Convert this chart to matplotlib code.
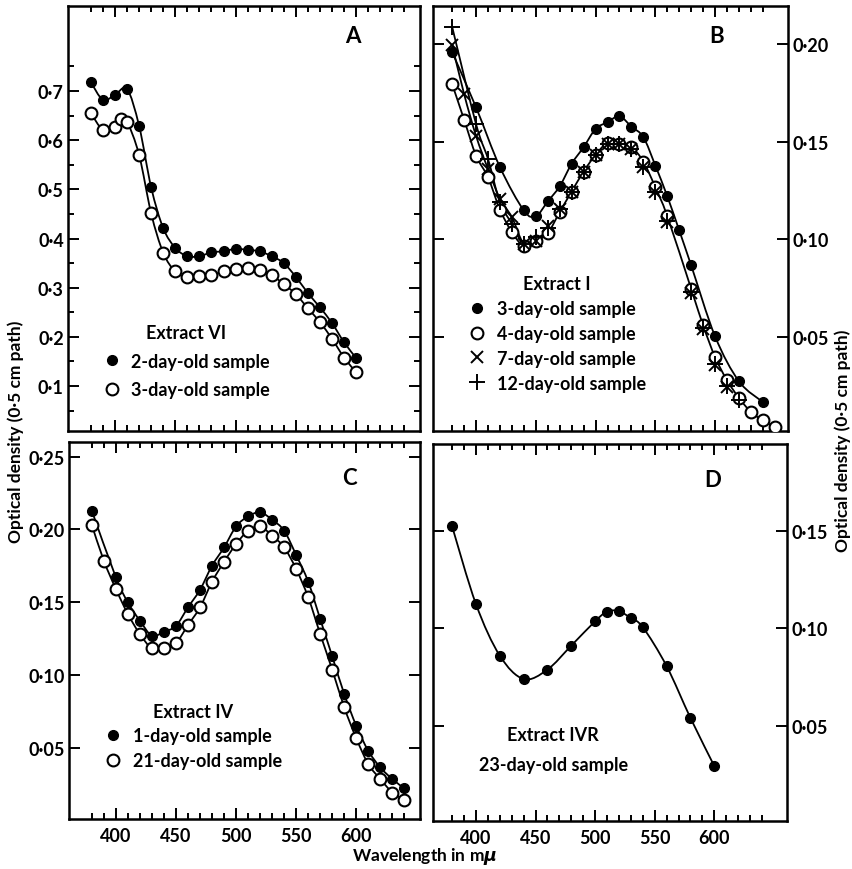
import numpy as np
import matplotlib
matplotlib.use('Agg')
import matplotlib.pyplot as plt
from matplotlib.path import Path
from matplotlib.patches import PathPatch
from matplotlib.ticker import FixedLocator, FuncFormatter

plt.rcParams['font.family'] = ['Lato', 'DejaVu Sans']
plt.rcParams['font.weight'] = 'bold'
plt.rcParams['mathtext.default'] = 'it'

# ---- panel A : Extract VI ----
lam_a = [380, 390, 400, 410, 420, 430, 440, 450, 460, 470, 480, 490, 500, 510, 520,
         530, 540, 550, 560, 570, 580, 590, 600]
a_2day = [0.718, 0.682, 0.692, 0.704, 0.629, 0.504, 0.421, 0.381, 0.364, 0.364, 0.372,
          0.374, 0.379, 0.377, 0.374, 0.364, 0.350, 0.322, 0.289, 0.260, 0.228, 0.189, 0.157]
lam_a3 = [380, 390, 400, 405, 410, 420, 430, 440, 450, 460, 470, 480, 490, 500, 510, 520,
          530, 540, 550, 560, 570, 580, 590, 600]
a_3day = [0.655, 0.621, 0.626, 0.643, 0.638, 0.570, 0.451, 0.371, 0.333, 0.321, 0.323,
          0.326, 0.333, 0.338, 0.340, 0.337, 0.326, 0.307, 0.287, 0.258, 0.230, 0.196,
          0.158, 0.128]

# ---- panel B : Extract I ----
lam_b3 = [380, 400, 420, 440, 450, 460, 470, 480, 490, 500, 510, 520, 530, 540, 550,
          560, 570, 580, 600, 620, 640]
b_3day = [0.1958, 0.1676, 0.1370, 0.1148, 0.1119, 0.1194, 0.1272, 0.1387, 0.1472, 0.1565,
          0.1600, 0.1630, 0.1577, 0.1523, 0.1378, 0.1221, 0.1046, 0.0867, 0.0504, 0.0274,
          0.0168]
lam_b4 = [380, 390, 400, 410, 420, 430, 440, 450, 460, 470, 480, 490, 500, 510, 520, 530,
          540, 550, 560, 580, 590, 600, 610, 620, 630, 640, 650]
b_4day = [0.1795, 0.1613, 0.1429, 0.1318, 0.1153, 0.1037, 0.0966, 0.0991, 0.1032, 0.1140,
          0.1245, 0.1347, 0.1433, 0.1494, 0.1489, 0.1472, 0.1398, 0.1267, 0.1119, 0.0747,
          0.0560, 0.0398, 0.0279, 0.0189, 0.0117, 0.0074, 0.0040]
lam_b7 = [380, 390, 400, 410, 420, 430, 440, 450, 460, 470, 480, 490, 500, 510, 520, 530,
          540, 550, 560, 580, 590, 600, 610]
b_7day = [0.1996, 0.1744, 0.1530, 0.1360, 0.1208, 0.1114, 0.0977, 0.0990, 0.1071, 0.1156,
          0.1245, 0.1345, 0.1430, 0.1490, 0.1490, 0.1460, 0.1370, 0.1240, 0.1090, 0.0725,
          0.0540, 0.0360, 0.0245]
lam_b12 = [380, 400, 410, 420, 430, 440, 450, 460, 470, 480, 490, 500, 510, 520, 530, 540,
           550, 560, 580, 590, 600, 610, 620]
b_12day = [0.2088, 0.1590, 0.1412, 0.1190, 0.1080, 0.0977, 0.1013, 0.1060, 0.1156, 0.1245,
           0.1345, 0.1430, 0.1490, 0.1490, 0.1460, 0.1370, 0.1245, 0.1095, 0.0730, 0.0545,
           0.0365, 0.0250, 0.0179]

# ---- panel C : Extract IV ----
lam_c1 = [380, 400, 410, 420, 430, 440, 450, 460, 470, 480, 490, 500, 510, 520, 530, 540,
          550, 560, 570, 580, 590, 600, 610, 620, 630, 640]
c_1day = [0.2128, 0.1670, 0.1498, 0.1372, 0.1269, 0.1296, 0.1337, 0.1464, 0.1585, 0.1750,
          0.1876, 0.2020, 0.2089, 0.2117, 0.2066, 0.1990, 0.1823, 0.1640, 0.1383, 0.1127,
          0.0868, 0.0650, 0.0478, 0.0364, 0.0284, 0.0220]
lam_c21 = [380, 390, 400, 410, 420, 430, 440, 450, 460, 470, 480, 490, 500, 510, 520, 530,
           540, 550, 560, 570, 580, 590, 600, 610, 620, 630, 640]
c_21day = [0.2030, 0.1784, 0.1590, 0.1418, 0.1280, 0.1182, 0.1182, 0.1219, 0.1342, 0.1464,
           0.1640, 0.1777, 0.1899, 0.1990, 0.2020, 0.1956, 0.1876, 0.1727, 0.1533, 0.1280,
           0.1035, 0.0777, 0.0564, 0.0387, 0.0284, 0.0192, 0.0142]

# ---- panel D : Extract IVR ----
lam_d = [380, 400, 420, 440, 460, 480, 500, 510, 520, 530, 540, 560, 580, 600]
d_23day = [0.1523, 0.1124, 0.0859, 0.0739, 0.0787, 0.0910, 0.1035, 0.1085, 0.1087, 0.1051,
           0.1005, 0.0805, 0.0539, 0.0292]

FS = 13


def smooth_line(ax, x, y):
    # catmull-rom through the points, drawn as bezier path
    x = np.asarray(x, float)
    y = np.asarray(y, float)
    verts = [(x[0], y[0])]
    codes = [Path.MOVETO]
    n = len(x)
    for i in range(n - 1):
        p0 = i - 1 if i > 0 else i
        p3 = i + 2 if i + 2 < n else i + 1
        c1 = (x[i] + (x[i + 1] - x[p0]) / 6, y[i] + (y[i + 1] - y[p0]) / 6)
        c2 = (x[i + 1] - (x[p3] - x[i]) / 6, y[i + 1] - (y[p3] - y[i]) / 6)
        verts += [c1, c2, (x[i + 1], y[i + 1])]
        codes += [Path.CURVE4] * 3
    ax.add_patch(PathPatch(Path(verts, codes), fill=False, lw=1.3, color='black'))


def filled(ax, x, y, label):
    ax.plot(x, y, 'o', ms=7, color='black', ls='none', label=label, zorder=3)


def hollow(ax, x, y, label):
    ax.plot(x, y, 'o', ms=8.5, mfc='white', mec='black', mew=1.5, ls='none',
            label=label, zorder=3)


def style(ax, xlim, ylim, yticks, yminor, fmt, side, xlabels):
    ax.set_xlim(*xlim)
    ax.set_ylim(*ylim)
    ax.xaxis.set_major_locator(FixedLocator([400, 450, 500, 550, 600]))
    ax.xaxis.set_minor_locator(FixedLocator(list(range(380, 650, 10))))
    ax.yaxis.set_major_locator(FixedLocator(yticks))
    ax.yaxis.set_minor_locator(FixedLocator(yminor))
    ax.yaxis.set_major_formatter(FuncFormatter(lambda v, p: fmt.format(v).replace('.', '\u00b7')))
    ax.tick_params(which='both', direction='in', top=True, right=True, left=True,
                   bottom=True, width=1.4, labelsize=FS)
    ax.tick_params(which='major', length=8)
    ax.tick_params(which='minor', length=4.5)
    ax.tick_params(axis='y', labelleft=(side == 'left'), labelright=(side == 'right'), pad=3)
    ax.tick_params(axis='x', labelbottom=xlabels, pad=6)
    for s in ax.spines.values():
        s.set_linewidth(1.8)


def panel_legend(ax, title, x, y, spacing):
    leg = ax.legend(title=title, loc='upper left', bbox_to_anchor=(x, y), frameon=False,
                    fontsize=FS, title_fontsize=FS, handlelength=1.0, handletextpad=0.6,
                    borderpad=0, borderaxespad=0, labelspacing=spacing)
    leg.get_title().set_fontweight('bold')
    return leg


fig = plt.figure(figsize=(8.53, 8.70), dpi=100)
W, H = 853.0, 870.0
ax_a = fig.add_axes([68 / W, 1 - 432 / H, 352 / W, 425 / H])
ax_b = fig.add_axes([433 / W, 1 - 432 / H, 355 / W, 425 / H])
ax_c = fig.add_axes([69 / W, 1 - 820 / H, 351 / W, 377 / H])
ax_d = fig.add_axes([433 / W, 1 - 822 / H, 354 / W, 377 / H])

# A
smooth_line(ax_a, lam_a, a_2day)
smooth_line(ax_a, lam_a3, a_3day)
filled(ax_a, lam_a, a_2day, '2-day-old sample')
hollow(ax_a, lam_a3, a_3day, '3-day-old sample')
style(ax_a, (361, 653), (0.0085, 0.873), [0.1, 0.2, 0.3, 0.4, 0.5, 0.6, 0.7],
      [0.05, 0.15, 0.25, 0.35, 0.45, 0.55, 0.65, 0.75], '{:.1f}', 'left', False)
panel_legend(ax_a, 'Extract VI', 0.098, 0.252, 0.65)
ax_a.text(0.81, 0.93, 'A', transform=ax_a.transAxes, fontsize=16, ha='center', va='center')

# B
smooth_line(ax_b, lam_b3, b_3day)
smooth_line(ax_b, lam_b4, b_4day)
# the 7- and 12-day curves only separate from the 4-day one on the short-wave side
smooth_line(ax_b, lam_b7[:8], b_7day[:8])
smooth_line(ax_b, lam_b12[:7], b_12day[:7])
filled(ax_b, lam_b3, b_3day, '3-day-old sample')
hollow(ax_b, lam_b4, b_4day, '4-day-old sample')
ax_b.plot(lam_b7, b_7day, 'x', ms=8, mew=1.4, color='black', ls='none',
          label='7-day-old sample', zorder=4)
ax_b.plot(lam_b12, b_12day, '+', ms=11, mew=1.4, color='black', ls='none',
          label='12-day-old sample', zorder=4)
style(ax_b, (364, 661), (0.002, 0.2194), [0.05, 0.10, 0.15, 0.20], [], '{:.2f}',
      'right', False)
panel_legend(ax_b, 'Extract I', 0.098, 0.366, 0.43)
ax_b.text(0.80, 0.93, 'B', transform=ax_b.transAxes, fontsize=16, ha='center', va='center')

# C
smooth_line(ax_c, lam_c1, c_1day)
smooth_line(ax_c, lam_c21, c_21day)
filled(ax_c, lam_c1, c_1day, '1-day-old sample')
hollow(ax_c, lam_c21, c_21day, '21-day-old sample')
style(ax_c, (361, 653), (0.001, 0.260), [0.05, 0.10, 0.15, 0.20, 0.25], [], '{:.2f}',
      'left', True)
panel_legend(ax_c, 'Extract IV', 0.10, 0.308, 0.42)
ax_c.text(0.80, 0.905, 'C', transform=ax_c.transAxes, fontsize=16, ha='center', va='center')

# D
smooth_line(ax_d, lam_d, d_23day)
filled(ax_d, lam_d, d_23day, '23-day-old sample')
style(ax_d, (364, 661), (0.001, 0.1945), [0.05, 0.10, 0.15], [], '{:.2f}', 'right', True)
ax_d.text(0.34, 0.23, 'Extract IVR', transform=ax_d.transAxes, fontsize=FS,
          ha='center', va='center')
ax_d.text(0.34, 0.15, '23-day-old sample', transform=ax_d.transAxes, fontsize=FS,
          ha='center', va='center')
ax_d.text(0.79, 0.905, 'D', transform=ax_d.transAxes, fontsize=16, ha='center', va='center')

fig.text(16 / W, 1 - 432 / H, 'Optical density (0\u00b75 cm path)', rotation=90,
         ha='center', va='center', fontsize=12.5)
fig.text(843 / W, 1 - 441 / H, 'Optical density (0\u00b75 cm path)', rotation=90,
         ha='center', va='center', fontsize=12.5)
fig.text(425 / W, 1 - 857 / H, 'Wavelength in m$\\mu$', ha='center', va='center', fontsize=12.5)

fig.savefig('out.png', dpi=100)
